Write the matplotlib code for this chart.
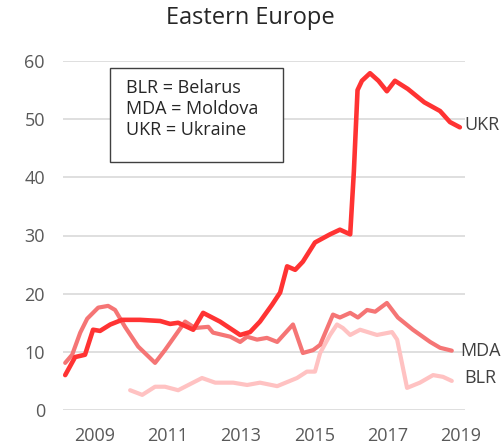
import matplotlib
matplotlib.use("Agg")
import matplotlib.pyplot as plt
from matplotlib.patches import Rectangle

# ---- data ----
ukr_years = [2008.21, 2008.48, 2008.75, 2008.97, 2009.16, 2009.44, 2009.76, 2010.25, 2010.80,
             2011.07, 2011.29, 2011.70, 2011.97, 2012.43, 2012.98, 2013.25, 2013.52, 2013.85,
             2014.07, 2014.26, 2014.48, 2014.69, 2015.02, 2015.43, 2015.70, 2015.98, 2016.08,
             2016.18, 2016.30, 2016.52, 2016.75, 2016.98, 2017.20, 2017.55, 2018.00, 2018.43,
             2018.70, 2018.97]
ukr_vals = [6.0, 9.1, 9.5, 13.8, 13.6, 14.7, 15.5, 15.5, 15.3,
            14.8, 15.0, 13.8, 16.7, 15.2, 12.9, 13.4, 15.2, 18.1,
            20.2, 24.7, 24.1, 25.5, 28.8, 30.2, 31.0, 30.2, 41.0,
            55.0, 56.6, 57.9, 56.6, 54.8, 56.6, 55.2, 52.9, 51.4,
            49.5, 48.6]

mda_years = [2008.21, 2008.40, 2008.62, 2008.81, 2009.11, 2009.38, 2009.57, 2009.84, 2010.20,
             2010.66, 2010.93, 2011.48, 2011.75, 2012.11, 2012.24, 2012.71, 2012.98, 2013.17,
             2013.44, 2013.71, 2013.99, 2014.42, 2014.69, 2014.97, 2015.16, 2015.51, 2015.70,
             2015.98, 2016.19, 2016.44, 2016.66, 2016.98, 2017.28, 2017.69, 2018.16, 2018.43,
             2018.75]
mda_vals = [8.1, 9.5, 13.3, 15.7, 17.6, 17.9, 17.2, 14.3, 10.9,
            8.1, 10.3, 15.2, 14.1, 14.3, 13.3, 12.6, 11.7, 12.6,
            12.1, 12.4, 11.7, 14.7, 9.8, 10.3, 11.2, 16.4, 15.9,
            16.7, 15.9, 17.2, 16.9, 18.4, 15.9, 13.8, 11.7, 10.7,
            10.2]

blr_years = [2009.98, 2010.31, 2010.66, 2010.93, 2011.29, 2011.94, 2012.30, 2012.79, 2013.17,
             2013.52, 2013.99, 2014.26, 2014.53, 2014.80, 2015.02, 2015.16, 2015.43, 2015.62,
             2015.78, 2015.98, 2016.25, 2016.71, 2017.12, 2017.26, 2017.53, 2017.88, 2018.24,
             2018.51, 2018.75]
blr_vals = [3.4, 2.6, 4.0, 4.0, 3.4, 5.5, 4.7, 4.7, 4.3,
            4.7, 4.1, 4.8, 5.5, 6.6, 6.6, 9.8, 12.9, 14.7,
            14.1, 12.9, 13.8, 12.9, 13.4, 12.1, 3.8, 4.7, 6.0,
            5.7, 5.0]

series_labels = ["UKR", "MDA", "BLR"]
legend_lines = ["BLR = Belarus", "MDA = Moldova", "UKR = Ukraine"]
x_ticks = [2009, 2011, 2013, 2015, 2017, 2019]
y_ticks = [0, 10, 20, 30, 40, 50, 60]
title = "Eastern Europe"

# ---- style ----
plt.rcParams['font.family'] = ['Open Sans', 'DejaVu Sans']
fig = plt.figure(figsize=(5.01, 4.46), dpi=100)
ax = fig.add_axes([63/501, 1-410/446, 402/501, 349/446])

col_ukr = '#ff3333'
col_mda = '#f57575'
col_blr = '#ffc2c2'

ax.plot(blr_years, blr_vals, color=col_blr, lw=3.0, solid_joinstyle='round', solid_capstyle='round', zorder=3)
ax.plot(mda_years, mda_vals, color=col_mda, lw=3.0, solid_joinstyle='round', solid_capstyle='round', zorder=4)
ax.plot(ukr_years, ukr_vals, color=col_ukr, lw=3.3, solid_joinstyle='round', solid_capstyle='round', zorder=5)

ax.set_xlim(2008.15, 2019.11)
ax.set_ylim(0, 60)
ax.set_xticks(x_ticks)
ax.set_yticks(y_ticks)
ax.tick_params(axis='both', length=0, labelsize=13, labelcolor='#595959')
ax.tick_params(axis='y', pad=13)
ax.tick_params(axis='x', pad=12)
for s in ax.spines.values():
    s.set_visible(False)
ax.grid(axis='y', color='#d9d9d9', lw=1.2)
ax.set_axisbelow(True)

# end labels
lab_col = '#404040'
for lbl, xs, ys, dy, off in [("UKR", ukr_years, ukr_vals, 0.4, 5),
                             ("MDA", mda_years, mda_vals, 0.0, 8),
                             ("BLR", blr_years, blr_vals, 0.5, 12)]:
    ax.annotate(lbl, xy=(xs[-1], ys[-1] + dy), xytext=(off, 0),
                textcoords='offset pixels', ha='left', va='center',
                fontsize=13, color=lab_col, annotation_clip=False)

# legend box
ax.add_patch(Rectangle((0.117, 0.711), 0.430, 0.269, transform=ax.transAxes,
                       facecolor='white', edgecolor='#404040', lw=1.0, clip_on=False, zorder=6))
for txt, yy in zip(legend_lines, [0.923, 0.862, 0.802]):
    ax.text(0.157, yy, txt, transform=ax.transAxes, ha='left', va='center',
            fontsize=13, color='#262626', zorder=7)

fig.text(0.5, 1-18/446, title, ha='center', va='center', fontsize=17, color='#262626')

fig.savefig('out.png', dpi=100)
